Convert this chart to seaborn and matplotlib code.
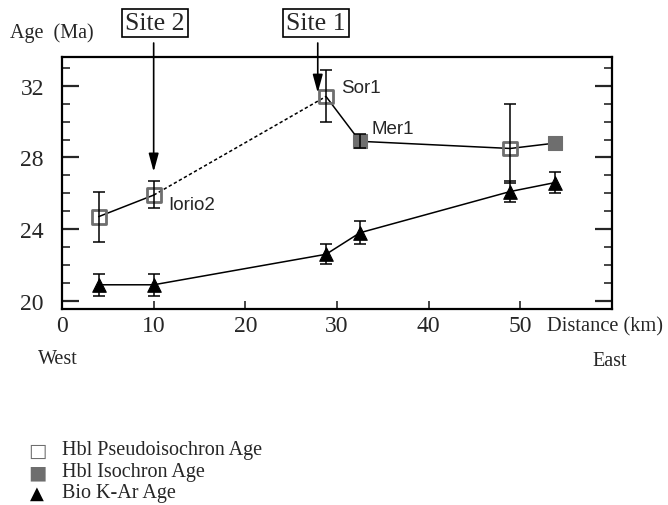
import matplotlib
matplotlib.use("Agg")
import matplotlib.pyplot as plt
import seaborn as sns
import pandas as pd
from matplotlib.ticker import MultipleLocator, FixedLocator

# ---- data ----
hbl_dist = [4.0, 10.0, 28.8, 32.5, 48.9, 53.8]
hbl_age = [24.7, 25.9, 31.4, 28.9, 28.5, 28.8]
hbl_err_lo = [1.4, 0.7, 1.4, 0.4, 1.9, 0.0]
hbl_err_hi = [1.4, 0.8, 1.5, 0.4, 2.5, 0.0]
hbl_type = ["pseudo", "pseudo", "pseudo", "iso", "pseudo", "iso"]

bio_dist = [4.0, 10.0, 28.8, 32.5, 48.9, 53.8]
bio_age = [20.9, 20.9, 22.6, 23.8, 26.1, 26.6]
bio_err = [0.6, 0.6, 0.55, 0.65, 0.6, 0.6]

x_ticks = [0, 10, 20, 30, 40, 50]
y_ticks = [20, 24, 28, 32]
legend_labels = ["Hbl Pseudoisochron Age", "Hbl Isochron Age", "Bio K-Ar Age"]

hbl = pd.DataFrame({"dist": hbl_dist, "age": hbl_age, "type": hbl_type,
                    "lo": hbl_err_lo, "hi": hbl_err_hi})
bio = pd.DataFrame({"dist": bio_dist, "age": bio_age})

sns.set_style("white")
plt.rcParams["font.family"] = ["Liberation Serif", "DejaVu Serif"]

W, H = 668, 506
fig = plt.figure(figsize=(W / 100, H / 100), dpi=100)
ax = fig.add_axes([62 / W, 1 - 310 / H, 550 / W, 252 / H])

grey = "#6e6e6e"

# error bars (drawn over the markers, as in the reference); skip zero-error points
he = hbl[(hbl["lo"] > 0) | (hbl["hi"] > 0)]
ax.errorbar(he["dist"], he["age"], yerr=[he["lo"], he["hi"]], fmt="none",
            ecolor="black", elinewidth=1.1, capsize=4, capthick=1.1, zorder=4)
ax.errorbar(bio_dist, bio_age, yerr=bio_err, fmt="none",
            ecolor="black", elinewidth=1.1, capsize=4, capthick=1.1, zorder=4)

# connecting lines
solid_a = hbl.iloc[0:2]
dotted = hbl.iloc[1:3]
solid_b = hbl.iloc[2:6]
kw = dict(x="dist", y="age", color="black", lw=1.1, ax=ax, sort=False, estimator=None, zorder=1)
sns.lineplot(data=solid_a, **kw)
sns.lineplot(data=dotted, linestyle=(0, (2.2, 1.6)), **kw)
sns.lineplot(data=solid_b, **kw)
sns.lineplot(data=bio, **kw)

# markers
sns.scatterplot(data=hbl[hbl["type"] == "pseudo"], x="dist", y="age", marker="s",
                s=100, facecolor="none", edgecolor=grey, linewidth=2.0, ax=ax, zorder=3)
sns.scatterplot(data=hbl[hbl["type"] == "iso"], x="dist", y="age", marker="s",
                s=95, color=grey, edgecolor=grey, ax=ax, zorder=3)
sns.scatterplot(data=bio, x="dist", y="age", marker="^", s=95, color="black",
                edgecolor="black", ax=ax, zorder=3)

# sample labels
sans = ["Liberation Sans", "DejaVu Sans"]
ax.text(hbl_dist[1] + 1.6, hbl_age[1] - 0.55, "Iorio2", family=sans, fontsize=13.5, va="center")
ax.text(hbl_dist[2] + 1.6, hbl_age[2] + 0.5, "Sor1", family=sans, fontsize=13.5, va="center")
ax.text(hbl_dist[3] + 1.3, hbl_age[3] + 0.7, "Mer1", family=sans, fontsize=13.5, va="center")

# axes styling
ax.set_xlim(0, 60)
ax.set_ylim(19.55, 33.6)
ax.xaxis.set_major_locator(FixedLocator(x_ticks))
ax.yaxis.set_major_locator(FixedLocator(y_ticks))
ax.yaxis.set_minor_locator(MultipleLocator(1))
ax.set_xticklabels([str(t) for t in x_ticks])
ax.set_yticklabels([str(t) for t in y_ticks])
ax.tick_params(axis="x", which="major", direction="in", length=6, width=1.2,
               labelsize=17, pad=4, top=False, bottom=True)
ax.tick_params(axis="y", which="major", direction="in", length=12, width=1.6,
               labelsize=17, left=True, right=True, pad=13)
ax.tick_params(axis="y", which="minor", direction="in", length=6, width=1.2,
               left=True, right=True)
for sp in ax.spines.values():
    sp.set_linewidth(1.6)
    sp.set_color("black")
ax.set_xlabel("")
ax.set_ylabel("")

# texts outside axes
fig.text(10 / W, 1 - 33 / H, "Age  (Ma)", fontsize=14.5, va="center", ha="left")
fig.text(547 / W, 1 - 327 / H, "Distance (km)", fontsize=14.7, va="center", ha="left")
fig.text(38 / W, 1 - 360 / H, "West", fontsize=14.5, va="center", ha="left")
fig.text(592 / W, 1 - 362 / H, "East", fontsize=14.5, va="center", ha="left")

# site boxes and arrows
box = dict(boxstyle="square,pad=0.12", fc="white", ec="black", lw=1.2)
fig.text(155 / W, 1 - 24 / H, "Site 2", fontsize=18.5, ha="center", va="center", bbox=box)
fig.text(316 / W, 1 - 24 / H, "Site 1", fontsize=18.5, ha="center", va="center", bbox=box)
arrow = dict(arrowstyle="-|>,head_width=0.3,head_length=1.1", color="black",
             lw=1.2, shrinkA=0, shrinkB=0)
ax.annotate("", xy=(10, 27.2), xycoords="data",
            xytext=(10, 1 - 44 / H), textcoords=("data", "figure fraction"),
            arrowprops=arrow, annotation_clip=False)
ax.annotate("", xy=(27.9, 31.6), xycoords="data",
            xytext=(27.9, 1 - 44 / H), textcoords=("data", "figure fraction"),
            arrowprops=arrow, annotation_clip=False)

# legend
lx = 37 / W
tx = 62 / W
rows = [451, 473, 494]
fig.text(lx, 1 - rows[0] / H, "\u25a1", fontsize=14, color=grey, ha="center", va="center",
         family=["DejaVu Sans"])
fig.text(lx, 1 - rows[1] / H, "\u25a0", fontsize=14, color=grey, ha="center", va="center",
         family=["DejaVu Sans"])
fig.text(lx, 1 - rows[2] / H, "\u25b2", fontsize=13, color="black", ha="center", va="center",
         family=["DejaVu Sans"])
for r, lab in zip(rows, legend_labels):
    fig.text(tx, 1 - r / H, lab, fontsize=14.5, ha="left", va="center")

fig.savefig("out.png", dpi=100)
